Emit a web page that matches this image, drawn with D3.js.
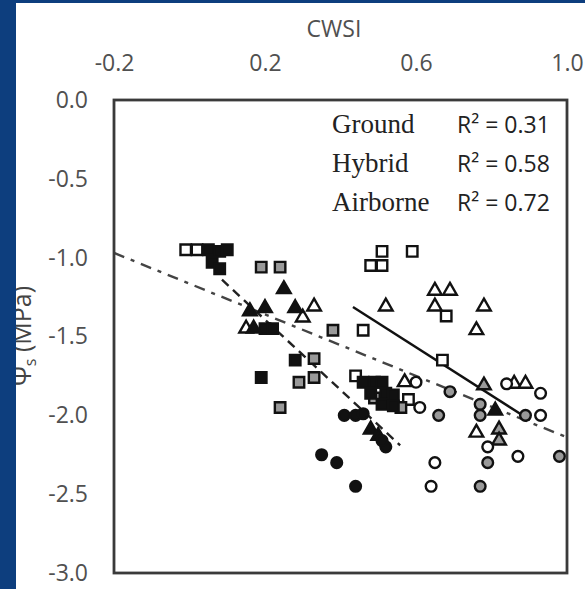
<!DOCTYPE html>
<html>
<head>
<meta charset="utf-8">
<script src="https://cdn.jsdelivr.net/npm/d3@7"></script>
<style>
  html, body { margin: 0; padding: 0; background: #fff; }
  svg { display: block; }
</style>
</head>
<body>
<div id="chart"></div>
<script>
// axis ticks
const xTicks = [-0.2, 0.2, 0.6, 1.0];
const yTicks = [0, -0.5, -1.0, -1.5, -2.0, -2.5, -3.0];

// points: [CWSI, Psi_s]
const openSquares = [[-0.01,-0.95],[0.02,-0.95],[0.46,-1.46],[0.44,-1.75],[0.51,-0.96],[0.48,-1.05],[0.51,-1.05],[0.59,-0.96],[0.68,-1.37],[0.67,-1.65],[0.58,-1.90]];
const graySquares = [[0.19,-1.06],[0.24,-1.06],[0.38,-1.46],[0.33,-1.64],[0.33,-1.76],[0.29,-1.79],[0.24,-1.95],[0.49,-1.89],[0.56,-1.95]];
const blackSquares = [[0.05,-0.95],[0.08,-0.96],[0.10,-0.95],[0.06,-1.03],[0.08,-1.07],[0.20,-1.45],[0.22,-1.45],[0.28,-1.65],[0.19,-1.76],[0.46,-1.79],[0.49,-1.79],[0.51,-1.79],[0.48,-1.86],[0.52,-1.86],[0.54,-1.87],[0.51,-1.93],[0.54,-1.94]];
const openTriangles = [[0.15,-1.45],[0.33,-1.31],[0.52,-1.31],[0.65,-1.21],[0.69,-1.21],[0.65,-1.31],[0.78,-1.31],[0.76,-1.46],[0.57,-1.79],[0.86,-1.80],[0.89,-1.80],[0.76,-2.11],[0.30,-1.38]];
const grayTriangles = [[0.78,-1.81],[0.82,-2.09],[0.82,-2.16]];
const blackTriangles = [[0.25,-1.20],[0.16,-1.34],[0.20,-1.32],[0.28,-1.32],[0.17,-1.45],[0.48,-2.09],[0.50,-2.13],[0.81,-1.97]];
const openCircles = [[0.60,-1.79],[0.61,-1.95],[0.84,-1.80],[0.93,-1.86],[0.93,-2.00],[0.79,-2.20],[0.87,-2.26],[0.65,-2.30],[0.64,-2.45]];
const grayCircles = [[0.66,-2.00],[0.69,-1.85],[0.77,-1.93],[0.77,-2.00],[0.89,-2.00],[0.79,-2.30],[0.98,-2.26],[0.77,-2.45]];
const blackCircles = [[0.41,-2.00],[0.44,-2.00],[0.46,-1.99],[0.52,-2.20],[0.35,-2.25],[0.39,-2.30],[0.44,-2.45],[0.51,-2.16]];

// regression lines (end points) and legend
const fitNames = ["Ground", "Hybrid", "Airborne"];
const fitR2 = ["0.31", "0.58", "0.72"];
const fitEnds = [
  [[0.433, -1.313], [0.902, -2.03]],
  [[-0.2, -0.97], [1.0, -2.14]],
  [[0.086, -1.14], [0.558, -2.19]]
];

const width = 585, height = 589;
const svg = d3.select("#chart").append("svg")
  .attr("width", width)
  .attr("height", height);

svg.append("rect").attr("width", width).attr("height", height).attr("fill", "#fff");

const x = d3.scaleLinear().domain([-0.2, 1.0]).range([114, 567]);
const y = d3.scaleLinear().domain([-3, 0]).range([573, 100]);

const sans = "'Open Sans', sans-serif";

// axes (labels only, frame drawn separately)
const xAxis = svg.append("g")
  .attr("transform", `translate(0,${y(0)})`)
  .call(d3.axisTop(x).tickValues(xTicks).tickSize(0).tickPadding(29).tickFormat(d => d.toFixed(1)));
const yAxis = svg.append("g")
  .attr("transform", `translate(${x(-0.2)},0)`)
  .call(d3.axisLeft(y).tickValues(yTicks).tickSize(0).tickPadding(26).tickFormat(d => d.toFixed(1)));
[xAxis, yAxis].forEach(g => {
  g.select(".domain").remove();
  g.selectAll("text").attr("font-family", sans).attr("font-size", 23).attr("fill", "#505050");
});

svg.append("text")
  .attr("x", 334).attr("y", 37)
  .attr("text-anchor", "middle")
  .attr("font-family", sans).attr("font-size", 23).attr("fill", "#505050")
  .text("CWSI");

const yTitle = svg.append("text")
  .attr("transform", "translate(31,336) rotate(-90)")
  .attr("text-anchor", "middle")
  .attr("font-family", sans).attr("font-size", 25).attr("fill", "#444");
yTitle.append("tspan").text("Ψ");
yTitle.append("tspan").attr("font-size", 16).attr("dy", 5).text("s");
yTitle.append("tspan").attr("dy", -5).text(" (MPa)");

// trend lines
const lineStyles = [
  { dash: null, color: "#111", w: 2.4 },
  { dash: "11,7,4,7", color: "#444", w: 2.4 },
  { dash: "9,6", color: "#222", w: 2.4 }
];
const line = d3.line().x(d => x(d[0])).y(d => y(d[1]));
svg.append("g").selectAll("path")
  .data(fitEnds)
  .join("path")
  .attr("d", line)
  .attr("fill", "none")
  .attr("stroke", (d, i) => lineStyles[i].color)
  .attr("stroke-width", (d, i) => lineStyles[i].w)
  .attr("stroke-dasharray", (d, i) => lineStyles[i].dash);

// markers
const groups = [
  { pts: openSquares, shape: d3.symbolSquare, size: 110, fill: "#fff" },
  { pts: graySquares, shape: d3.symbolSquare, size: 110, fill: "#999" },
  { pts: blackSquares, shape: d3.symbolSquare, size: 110, fill: "#111" },
  { pts: openTriangles, shape: d3.symbolTriangle, size: 80, fill: "#fff" },
  { pts: grayTriangles, shape: d3.symbolTriangle, size: 80, fill: "#999" },
  { pts: blackTriangles, shape: d3.symbolTriangle, size: 80, fill: "#111" },
  { pts: openCircles, shape: d3.symbolCircle, size: 90, fill: "#fff" },
  { pts: grayCircles, shape: d3.symbolCircle, size: 90, fill: "#999" },
  { pts: blackCircles, shape: d3.symbolCircle, size: 90, fill: "#111" }
];
groups.forEach(gr => {
  svg.append("g").selectAll("path")
    .data(gr.pts)
    .join("path")
    .attr("transform", d => `translate(${x(d[0])},${y(d[1])})`)
    .attr("d", d3.symbol().type(gr.shape).size(gr.size))
    .attr("fill", gr.fill)
    .attr("stroke", "#111")
    .attr("stroke-width", 2.4);
});

// frame
svg.append("rect")
  .attr("x", x(-0.2)).attr("y", y(0))
  .attr("width", x(1.0) - x(-0.2)).attr("height", y(-3) - y(0))
  .attr("fill", "none").attr("stroke", "#3a3a3a").attr("stroke-width", 2.8);

// legend
const legY = [133, 172, 211];
fitNames.forEach((n, i) => {
  svg.append("text")
    .attr("x", 332).attr("y", legY[i])
    .attr("font-family", "'Liberation Serif', serif").attr("font-size", 27).attr("fill", "#222")
    .text(n);
  svg.append("text")
    .attr("x", 457).attr("y", legY[i])
    .attr("font-family", sans).attr("font-size", 23).attr("fill", "#222")
    .text("R² = " + fitR2[i]);
});

// dark blue border of the slide
svg.append("rect").attr("x", 0).attr("y", 0).attr("width", 16).attr("height", height).attr("fill", "#0d3e7e");
svg.append("rect").attr("x", 0).attr("y", 0).attr("width", width).attr("height", 3).attr("fill", "#0d3e7e");
</script>
</body>
</html>
